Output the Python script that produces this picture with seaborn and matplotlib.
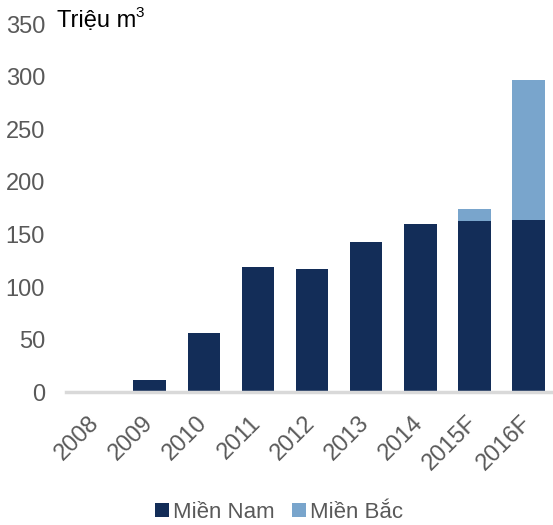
import matplotlib
matplotlib.use("Agg")
import matplotlib.pyplot as plt
import matplotlib.transforms as mtransforms
import seaborn as sns
import pandas as pd

years = ["2008", "2009", "2010", "2011", "2012", "2013", "2014", "2015F", "2016F"]
mien_nam = [0, 12, 56, 119, 117, 143, 160, 163, 164]
mien_bac = [0, 0, 0, 0, 0, 0, 0, 11, 133]
yticks = [0, 50, 100, 150, 200, 250, 300, 350]

dark = "#132d58"
light = "#79a5cc"
grey = "#595959"

sns.set_theme(style="white")
plt.rcParams["font.family"] = ["Liberation Sans", "DejaVu Sans"]

df = pd.DataFrame({"year": years, "nam": mien_nam, "bac": mien_bac})
df["total"] = df["nam"] + df["bac"]

fig = plt.figure(figsize=(5.53, 5.25), dpi=100)
ax = fig.add_axes([0.119, 0.253, 0.881, 0.701])

sns.barplot(data=df, x="year", y="total", color=light, saturation=1, width=0.6, ax=ax, label="Miền Bắc")
sns.barplot(data=df, x="year", y="nam", color=dark, saturation=1, width=0.6, ax=ax, label="Miền Nam")
for p in ax.patches:
    p.set_linewidth(0)

ax.set_ylim(0, 350)
ax.set_xlim(-0.55, 8.45)
ax.set_yticks(yticks)
ax.set_yticklabels([str(v) for v in yticks], fontsize=17, color=grey)
ax.set_xticks(range(len(years)))
ax.set_xticklabels(years, fontsize=17, color=grey, rotation=45, ha="right", rotation_mode="anchor")
ax.tick_params(axis="x", length=0, pad=14)
ax.tick_params(axis="y", length=0, pad=15)
offset = mtransforms.ScaledTranslation(-8 / 100, 0, fig.dpi_scale_trans)
for lbl in ax.get_xticklabels():
    lbl.set_transform(lbl.get_transform() + offset)
ax.set_xlabel("")
ax.set_ylabel("")
for s in ["top", "right", "left"]:
    ax.spines[s].set_visible(False)
ax.spines["bottom"].set_color("#d9d9d9")
ax.spines["bottom"].set_linewidth(2.5)

t1 = fig.text(57 / 553, 1 - 27 / 525, "Triệu m", fontsize=17, color="black", va="baseline", ha="left")
fig.canvas.draw()
bb = t1.get_window_extent(renderer=fig.canvas.get_renderer())
fig.text((bb.x1 - 1) / fig.bbox.width, 1 - 17 / 525, "3", fontsize=11, color="black",
         va="baseline", ha="left")

handles, labels = ax.get_legend_handles_labels()
order = [labels.index("Miền Nam"), labels.index("Miền Bắc")]
leg = fig.legend([handles[i] for i in order], [labels[i] for i in order], loc="center",
                 bbox_to_anchor=(0.505, 1 - 512 / 525), ncol=2, frameon=False, fontsize=16,
                 handlelength=0.6, handleheight=0.6, handletextpad=0.2, columnspacing=0.8)
for t in leg.get_texts():
    t.set_color(grey)
if ax.get_legend() is not None:
    ax.get_legend().remove()

fig.savefig("out.png", dpi=100)
